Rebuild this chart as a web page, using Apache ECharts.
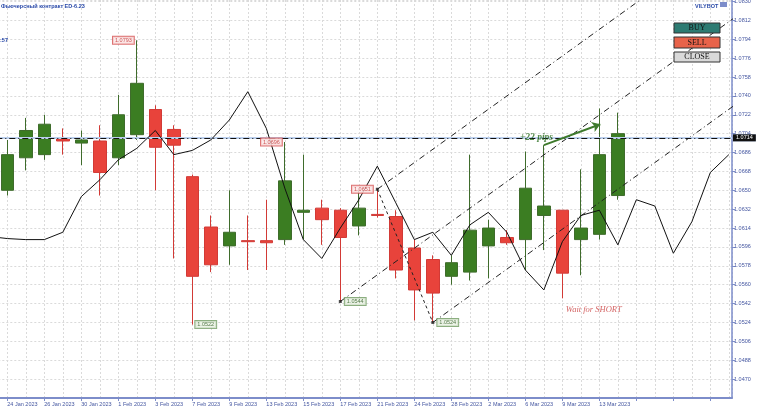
<!DOCTYPE html>
<html><head><meta charset="utf-8">
<script src="https://cdn.jsdelivr.net/npm/echarts@6/dist/echarts.min.js"></script>
<style>html,body{margin:0;padding:0;background:#fff;overflow:hidden}#c{width:758px;height:411px}</style>
</head><body><div id="c"></div>
<script>
// ---------- DATA ----------
const dates = ['24 Jan 2023','25 Jan 2023','26 Jan 2023','27 Jan 2023','30 Jan 2023','31 Jan 2023','1 Feb 2023','2 Feb 2023','3 Feb 2023','6 Feb 2023',
  '7 Feb 2023','8 Feb 2023','9 Feb 2023','10 Feb 2023','13 Feb 2023','14 Feb 2023','15 Feb 2023','16 Feb 2023','17 Feb 2023','20 Feb 2023',
  '21 Feb 2023','22 Feb 2023','24 Feb 2023','27 Feb 2023','28 Feb 2023','1 Mar 2023','2 Mar 2023','3 Mar 2023','6 Mar 2023','7 Mar 2023',
  '9 Mar 2023','10 Mar 2023','13 Mar 2023','14 Mar 2023','15 Mar 2023','16 Mar 2023','17 Mar 2023','20 Mar 2023','21 Mar 2023','22 Mar 2023'];
const lastLabelIndex = 32;

const opens  = [1.0650,1.0681,1.0684,1.0700,1.0695,1.0697,1.0681,1.0703,1.0727,1.0708,1.0663,1.0615,1.0597,1.0602,1.0602,1.0603,1.0629,1.0633,1.0631,1.0616,1.0627,1.0625,1.0595,1.0584,1.0568,1.0572,1.0597,1.0605,1.0603,1.0626,1.0631,1.0603,1.0608,1.0645];
const closes = [1.0684,1.0707,1.0713,1.0697,1.0698,1.0667,1.0722,1.0752,1.0691,1.0693,1.0568,1.0579,1.0610,1.0601,1.0600,1.0659,1.0631,1.0622,1.0605,1.0633,1.0626,1.0574,1.0555,1.0552,1.0581,1.0612,1.0614,1.0600,1.0652,1.0635,1.0571,1.0614,1.0684,1.0704];
const lows   = [1.0645,1.0669,1.0679,1.0684,1.0674,1.0645,1.0674,1.0698,1.0650,1.0585,1.0522,1.0572,1.0579,1.0574,1.0574,1.0598,1.0603,1.0598,1.0544,1.0607,1.0624,1.0566,1.0526,1.0524,1.0560,1.0564,1.0566,1.0598,1.0574,1.0593,1.0547,1.0569,1.0603,1.0641];
const highs  = [1.0698,1.0719,1.0722,1.0709,1.0707,1.0712,1.0741,1.0793,1.0731,1.0712,1.0665,1.0626,1.0650,1.0626,1.0641,1.0696,1.0684,1.0641,1.0633,1.0650,1.0651,1.0631,1.0603,1.0588,1.0588,1.0684,1.0622,1.0612,1.0687,1.0693,1.0631,1.0670,1.0728,1.0724];

// indicator line, first value sits one bar before 24 Jan
const indicatorStart = -1;
const indicator = [1.0606,1.0604,1.0603,1.0603,1.0610,1.0644,1.0660,1.0679,1.0690,1.0707,1.0684,1.0688,1.0698,1.0717,1.0744,1.0709,1.0652,1.0603,1.0585,1.0614,1.0641,1.0673,1.0638,1.0603,1.0610,1.0588,1.0617,1.0629,1.0610,1.0574,1.0555,1.0601,1.0626,1.0631,1.0598,1.0641,1.0635,1.0590,1.0620,1.0667,1.0684];

// price tags (bar index, which extreme, side)
const tagBars  = [7, 15, 20, 10, 18, 23];
const tagKinds = ['high','high','high','low','low','low'];
const tagSides = ['left','left','left','right','right','right'];
const tagAnchor = [false,false,true,false,true,true];

// channel: three parallel lines from anchor bars
const channelSlope = 0.00127;
const channelBars = [18, 20, 23];
const channelVals = [1.0544, 1.0651, 1.0524];

// horizontal levels
const levelAsk = 1.0714;
const levelBid = 1.0707;

// profit arrow and notes
const arrowFrom = [29, 1.0693];
const arrowTo = [32.05, 1.0713];
const noteX = [28.6, 31.7];
const noteY = [1.0700, 1.0536];
const noteText = ['+22 pips', 'Wait for SHORT'];

const yMin = 1.0452, yMax = 1.08314, yStep = 0.0018;

// ---------- CHART ----------
const chart = echarts.init(document.getElementById('c'), null, {renderer: 'canvas'});
const axisBlue = '#7d8dca';
const labelBlue = '#4456a0';
const gridLine = {color: '#dadada', type: [2, 2], width: 1};

const candleData = opens.map((o, i) => [i, o, closes[i], lows[i], highs[i]]);
const indicatorData = indicator.map((v, k) => [indicatorStart + k, v]);

const redTag = {borderColor: '#d65050', backgroundColor: '#fbe6e6', color: '#c02a2a'};
const greenTag = {borderColor: '#6f9a60', backgroundColor: '#e7f0e1', color: '#2c5a1e'};
const tagData = tagBars.map((b, k) => {
  const v = tagKinds[k] === 'high' ? highs[b] : lows[b];
  const st = tagKinds[k] === 'high' ? redTag : greenTag;
  return {
    value: [b, v],
    symbol: 'rect',
    symbolSize: tagAnchor[k] ? 3 : 0,
    itemStyle: {color: '#222'},
    label: Object.assign({show: true, position: tagSides[k], distance: 3, formatter: v.toFixed(4),
      fontSize: 5.5, fontFamily: 'Liberation Sans', borderWidth: 1, padding: [1, 2, 0, 2]}, st)
  };
});

const channelSeries = channelBars.map((b, k) => ({
  type: 'line', symbol: 'none', silent: true, z: 4,
  data: [[b, channelVals[k]], [41, channelVals[k] + (41 - b) * channelSlope]],
  lineStyle: {color: '#222', width: 1, type: [6, 3, 1, 3]}
}));

const noteColors = ['#2a6e1f', '#c83a3a'];
const noteWeights = ['bold', 'normal'];
const noteSeries = noteText.map((t, k) => ({
  type: 'scatter', z: 30, clip: false, silent: true, symbolSize: 1,
  itemStyle: {color: 'rgba(255,255,255,0)'},
  data: [[noteX[k], noteY[k]]],
  label: {show: true, position: 'inside', formatter: t, fontSize: k === 0 ? 9.5 : 8.5,
    fontStyle: 'italic', fontWeight: noteWeights[k], fontFamily: 'Liberation Serif', color: noteColors[k],
    textBorderWidth: 0, textShadowBlur: 0}
}));

function button(y, h, fill, text) {
  return {type: 'rect', z: 100, shape: {x: 674, y: y, width: 46, height: h},
    style: {fill: fill, stroke: '#333', lineWidth: 1},
    textContent: {z: 101, style: {text: text, fill: '#111', font: '8px "Liberation Serif"'}},
    textConfig: {position: 'inside'}};
}

const option = {
  animation: false,
  backgroundColor: '#fff',
  grid: {left: -29.7, right: 26, top: 0, bottom: 13, outerBoundsMode: 'none', containLabel: false},
  xAxis: {
    type: 'value', min: -2, max: 39.17, interval: 2,
    axisLine: {show: true, onZero: false, lineStyle: {color: axisBlue, width: 2}},
    axisTick: {show: true, length: 3, lineStyle: {color: axisBlue}},
    axisLabel: {
      align: 'left', margin: 3, fontSize: 5.5, color: labelBlue, fontFamily: 'Liberation Sans',
      showMaxLabel: false, showMinLabel: false, hideOverlap: false,
      formatter: v => (Number.isInteger(v) && v >= 0 && v <= lastLabelIndex) ? dates[v] : ''
    },
    splitLine: {show: true, lineStyle: gridLine},
    minorTick: {show: false, splitNumber: 2},
    minorSplitLine: {show: true, lineStyle: gridLine}
  },
  yAxis: {
    type: 'value', position: 'right', min: yMin, max: yMax, interval: yStep,
    axisLine: {show: true, onZero: false, lineStyle: {color: axisBlue, width: 1.5}},
    axisTick: {show: true, length: 3, lineStyle: {color: axisBlue}},
    axisLabel: {margin: 2, fontSize: 5.5, color: labelBlue, fontFamily: 'Liberation Sans',
      showMinLabel: false, showMaxLabel: false, formatter: v => v.toFixed(4)},
    splitLine: {show: true, lineStyle: gridLine}
  },
  graphic: [
    {type: 'text', z: 100, left: 1, top: 3, style: {text: 'Фьючерсный контракт ED-6.23', fill: '#2848a8', font: 'bold 5.5px "Liberation Sans"'}},
    {type: 'text', z: 100, left: 0, top: 37, style: {text: ':57', fill: '#2848a8', font: 'bold 5.5px "Liberation Sans"'}},
    {type: 'text', z: 100, left: 695, top: 3, style: {text: 'VILYBOT', fill: '#2a4aa8', font: 'bold 5.5px "Liberation Sans"'}},
    {type: 'rect', z: 100, shape: {x: 720, y: 2, width: 7, height: 5}, style: {fill: '#7d8dca'}},
    button(23, 10, '#2d7b72', 'BUY'),
    button(37, 11, '#e8634a', 'SELL'),
    button(52, 10, '#d9d9d9', 'CLOSE')
  ],
  series: [
    {
      type: 'candlestick', data: candleData, barWidth: 13, z: 2,
      itemStyle: {color: '#3b7d22', color0: '#e8433b', borderColor: '#3f6c2c', borderColor0: '#d23a36', borderWidth: 1}
    },
    {
      type: 'line', data: indicatorData, symbol: 'none', z: 5,
      lineStyle: {color: '#111', width: 1},
      markLine: {
        silent: true, symbol: 'none',
        data: [
          {yAxis: levelBid, lineStyle: {color: '#bcd0ee', width: 2, type: 'solid'},
            label: {show: true, position: 'end', distance: 1, formatter: levelBid.toFixed(4), fontSize: 5.5, color: '#fff', backgroundColor: '#a7bde3', padding: [1, 3, 0, 3], fontFamily: 'Liberation Sans'}},
          {yAxis: levelAsk, lineStyle: {color: '#111', width: 1, type: [6, 3, 1, 3]},
            label: {show: true, position: 'end', distance: 1, formatter: levelAsk.toFixed(4), fontSize: 5.5, color: '#fff', backgroundColor: '#111', padding: [1, 3, 0, 3], fontFamily: 'Liberation Sans'}},
          [{coord: arrowFrom, symbol: 'none', label: {show: false}}, {coord: arrowTo, symbol: 'arrow', symbolSize: 8,
            lineStyle: {color: '#3e7a2c', width: 2, type: 'solid'}, label: {show: false}}]
        ]
      }
    },
    ...channelSeries,
    {
      type: 'line', symbol: 'none', z: 4, silent: true,
      data: [[channelBars[1], channelVals[1]], [channelBars[2], channelVals[2]]],
      lineStyle: {color: '#222', width: 1, type: [3, 3]}
    },
    {type: 'scatter', data: tagData, z: 6, clip: false, silent: true},
    ...noteSeries
  ]
};
chart.setOption(option);
</script>
</body></html>
